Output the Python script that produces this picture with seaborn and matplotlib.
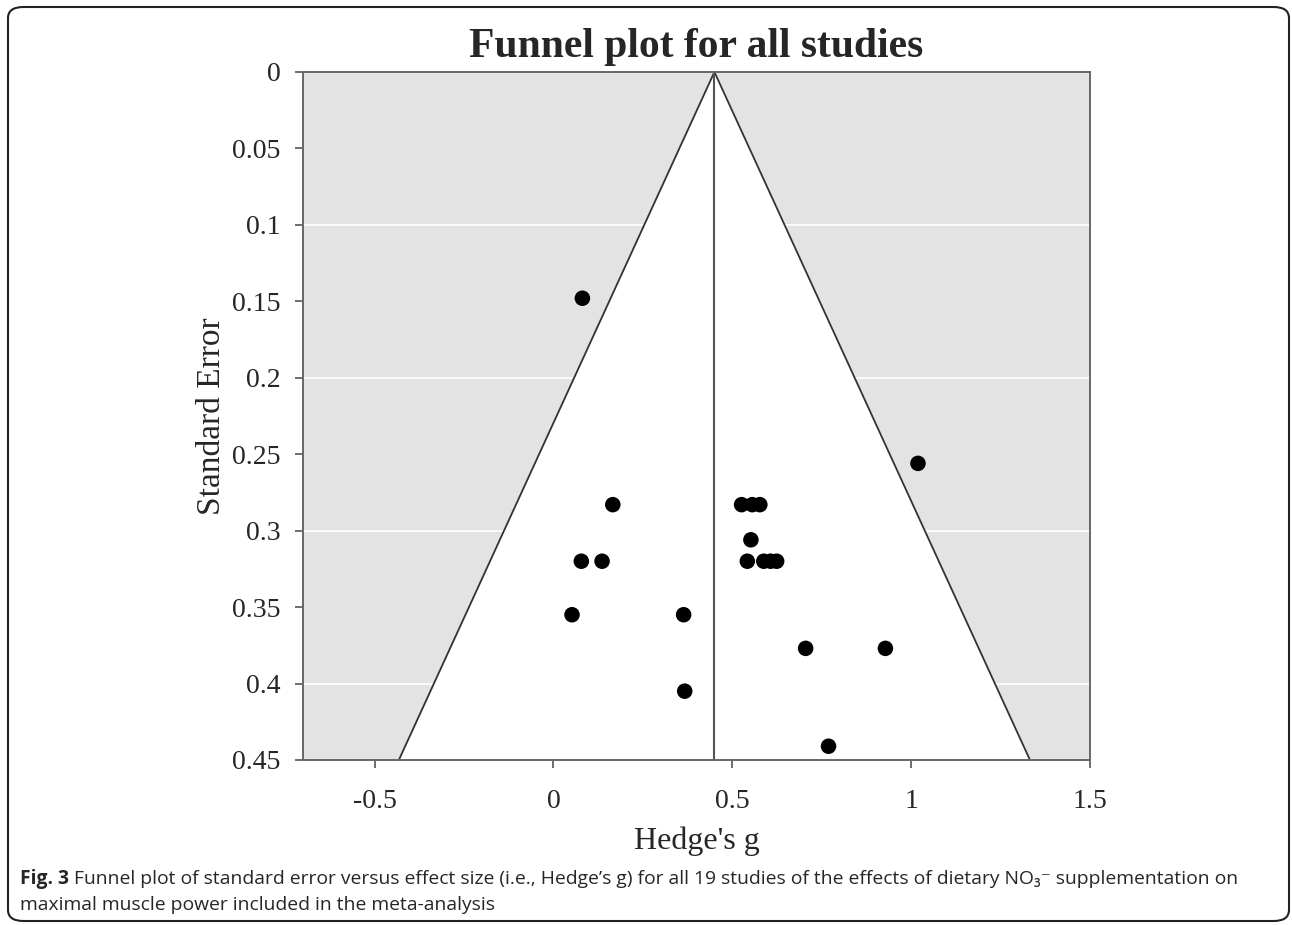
import numpy as np
import pandas as pd
import matplotlib
matplotlib.use("Agg")
import matplotlib.pyplot as plt
from matplotlib.patches import FancyBboxPatch
from matplotlib.ticker import FuncFormatter
import seaborn as sns

# study effect sizes (Hedge's g) and standard errors
hedges_g = [0.081, 1.019, 0.166, 0.526, 0.556, 0.577, 0.552,
            0.078, 0.136, 0.542, 0.588, 0.607, 0.624,
            0.052, 0.364, 0.705, 0.928, 0.367, 0.769]
std_err = [0.148, 0.256, 0.283, 0.283, 0.283, 0.283, 0.306,
           0.320, 0.320, 0.320, 0.320, 0.320, 0.320,
           0.355, 0.355, 0.377, 0.377, 0.405, 0.441]
mean_g = 0.45
se_range = [0.0, 0.45]
grid_levels = [0.1, 0.2, 0.3, 0.4]
x_ticks = [-0.5, 0, 0.5, 1, 1.5]
y_ticks = [0, 0.05, 0.1, 0.15, 0.2, 0.25, 0.3, 0.35, 0.4, 0.45]

df = pd.DataFrame({"g": hedges_g, "se": std_err})

sns.set_style("ticks")
plt.rcParams["font.family"] = ["Liberation Serif", "DejaVu Serif"]

fig = plt.figure(figsize=(12.92, 9.25), dpi=100)
ax = fig.add_axes([0.2345, 0.1784, 0.6092, 0.7438])
ax.set_facecolor("#e3e3e3")

for lvl in grid_levels:
    ax.axhline(lvl, color="white", lw=1.2, zorder=0.5)

# funnel: mean +/- 1.96*SE
se_arr = np.array(se_range)
ax.fill_betweenx(se_arr, mean_g - 1.96 * se_arr, mean_g + 1.96 * se_arr,
                 color="white", zorder=1, lw=0)
ax.plot(mean_g - 1.96 * se_arr, se_arr, color="#333333", lw=1.3, zorder=2)
ax.plot(mean_g + 1.96 * se_arr, se_arr, color="#333333", lw=1.3, zorder=2)
ax.axvline(mean_g, color="#555555", lw=1.5, zorder=2)

sns.scatterplot(data=df, x="g", y="se", ax=ax, s=125, color="black",
                edgecolor="none", zorder=3, legend=False)

ax.set_xlim(-0.7, 1.5)
ax.set_ylim(0.45, 0)
ax.set_xticks(x_ticks)
ax.set_yticks(y_ticks)
fmt = FuncFormatter(lambda v, p: "%g" % v)
ax.xaxis.set_major_formatter(fmt)
ax.yaxis.set_major_formatter(fmt)
ax.tick_params(axis="both", labelsize=20, length=6, width=1.2,
               color="#555555", direction="out", pad=10)
ax.tick_params(axis="x", pad=15)
for s in ax.spines.values():
    s.set_color("#666666")
    s.set_linewidth(1.4)

ax.set_xlabel("Hedge's g", fontsize=23, labelpad=9)
ax.set_ylabel("Standard Error", fontsize=24, labelpad=4)
ax.set_title("Funnel plot for all studies", fontsize=30, fontweight="bold", pad=11)

# caption
cap_font = ["Open Sans", "DejaVu Sans"]
cap_size = 13.9
t1 = fig.text(20 / 1292, 1 - 879 / 925, "Fig. 3", fontsize=cap_size, fontweight="bold",
              family=cap_font, va="center")
fig.canvas.draw()
bb = t1.get_window_extent()
fig.text((bb.x1 + 5) / 1292, 1 - 879 / 925,
         "Funnel plot of standard error versus effect size (i.e., Hedge\u2019s g) for all 19 "
         "studies of the effects of dietary NO\u2083\u207b supplementation on",
         fontsize=cap_size, family=cap_font, va="center")
fig.text(20 / 1292, 1 - 905 / 925, "maximal muscle power included in the meta-analysis",
         fontsize=cap_size, family=cap_font, va="center")

border = FancyBboxPatch((8 / 1292, 4 / 925), 1281 / 1292, 914 / 925,
                        boxstyle="round,pad=0,rounding_size=0.012",
                        transform=fig.transFigure, fill=False,
                        edgecolor="#222222", lw=1.5)
fig.patches.append(border)

fig.savefig("out.png", dpi=100)
